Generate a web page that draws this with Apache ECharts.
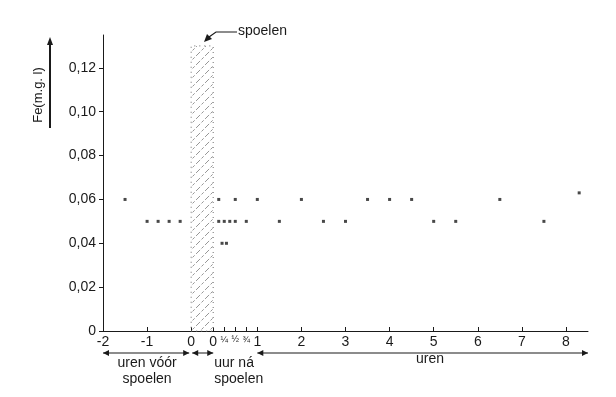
<!DOCTYPE html>
<html>
<head>
<meta charset="utf-8">
<script src="https://cdn.jsdelivr.net/npm/echarts@6/dist/echarts.min.js"></script>
<style>
  html, body { margin: 0; background: #fff; }
  #chart { width: 616px; height: 397px; }
</style>
</head>
<body>
<div id="chart"></div>
<script>
// Fe (mg/l) measured before flushing (hours before spoelen)
var beforeHours = [-1.5, -1, -0.75, -0.5, -0.25];
var beforeFe = [0.06, 0.05, 0.05, 0.05, 0.05];

// Fe (mg/l) measured after flushing (hours after spoelen)
var afterHours = [0.125, 0.5, 1, 2, 3.5, 4, 4.5, 6.5, 8.3,
  0.125, 0.25, 0.375, 0.5, 0.75, 1.5, 2.5, 3, 5, 5.5, 7.5,
  0.2, 0.3];
var afterFe = [0.06, 0.06, 0.06, 0.06, 0.06, 0.06, 0.06, 0.06, 0.063,
  0.05, 0.05, 0.05, 0.05, 0.05, 0.05, 0.05, 0.05, 0.05, 0.05, 0.05,
  0.04, 0.04];

// flushing period, peak Fe during spoelen
var flushFe = 0.13;
var flushGap = 0.5; // width of the flushing period on the time axis (hours scale)

var beforeTicks = [-2, -1, 0];
var afterTicks = [0, 0.25, 0.5, 0.75, 1, 2, 3, 4, 5, 6, 7, 8];
var afterTickLabels = ["0", "¼", "½", "¾", "1", "2", "3", "4", "5", "6", "7", "8"];

var ink = "#1a1a1a";
var font = "Liberation Sans";

// before-values are shifted left so the flushing period sits between the two zeros
function shiftBefore(h) { return h - flushGap; }

var labelMap = {};
var tickValues = [];
beforeTicks.forEach(function(t) {
  var v = shiftBefore(t);
  tickValues.push(v);
  labelMap[v.toFixed(3)] = String(t);
});
afterTicks.forEach(function(t, i) {
  tickValues.push(t);
  labelMap[t.toFixed(3)] = afterTickLabels[i];
});

var beforeData = beforeHours.map(function(h, i) { return [shiftBefore(h), beforeFe[i]]; });
var afterData = afterHours.map(function(h, i) { return [h, afterFe[i]]; });

// sparse hatch pattern for the flushing band
var hatch = document.createElement("canvas");
hatch.width = 9;
hatch.height = 9;
var hc = hatch.getContext("2d");
hc.strokeStyle = "#8a8a8a";
hc.lineWidth = 0.9;
hc.setLineDash([3, 2]);
hc.beginPath();
hc.moveTo(0, 9);
hc.lineTo(9, 0);
hc.stroke();

var chart = echarts.init(document.getElementById("chart"));

chart.setOption({
  animation: false,
  backgroundColor: "#fff",
  textStyle: { fontFamily: font },
  grid: { left: 103, right: 28, top: 35, bottom: 66, outerBoundsMode: "none" },
  xAxis: {
    type: "value",
    min: shiftBefore(-2),
    max: 8.5,
    splitLine: { show: false },
    axisLine: { onZero: false, lineStyle: { color: ink, width: 1 } },
    axisTick: { inside: true, length: 4, customValues: tickValues, lineStyle: { color: ink } },
    axisLabel: {
      customValues: tickValues,
      margin: 4,
      color: ink,
      fontSize: 14,
      formatter: function(v) {
        var s = labelMap[v.toFixed(3)];
        if (s === "¼" || s === "½" || s === "¾") return "{f|" + s + "}";
        return s;
      },
      rich: { f: { fontSize: 9, color: ink, padding: [0, 0, 2, 0] } }
    }
  },
  yAxis: {
    type: "value",
    min: 0,
    max: 0.135,
    interval: 0.02,
    splitLine: { show: false },
    axisLine: { show: true, onZero: false, lineStyle: { color: ink, width: 1 } },
    axisTick: { show: true, length: 4, lineStyle: { color: ink } },
    axisLabel: {
      margin: 7,
      color: ink,
      fontSize: 14,
      showMaxLabel: false,
      formatter: function(v) { return v === 0 ? "0" : v.toFixed(2).replace(".", ","); }
    }
  },
  series: [
    {
      name: "voor",
      type: "scatter",
      symbol: "rect",
      symbolSize: 3,
      itemStyle: { color: ink },
      data: beforeData,
      markArea: {
        silent: true,
        itemStyle: {
          color: { image: hatch, repeat: "repeat" },
          borderColor: "#888",
          borderWidth: 1.2,
          borderType: [1, 4]
        },
        data: [[{ coord: [-flushGap, 0] }, { coord: [0, flushFe] }]]
      }
    },
    {
      name: "na",
      type: "scatter",
      symbol: "rect",
      symbolSize: 3,
      itemStyle: { color: ink },
      data: afterData
    }
  ]
});

// annotations: axis captions and arrows
function px(x, y) { return chart.convertToPixel({ gridIndex: 0 }, [x, y]); }

function arrowHead(x, y, dir) {
  var pts;
  if (dir === "l") pts = [[x, y], [x + 6, y - 3], [x + 6, y + 3]];
  else if (dir === "r") pts = [[x, y], [x - 6, y - 3], [x - 6, y + 3]];
  else pts = [[x, y], [x - 3, y + 8], [x + 3, y + 8]];
  return { type: "polygon", shape: { points: pts }, style: { fill: ink } };
}

function hline(x1, x2, y) {
  return { type: "line", shape: { x1: x1, y1: y, x2: x2, y2: y }, style: { stroke: "#666", lineWidth: 1.5 } };
}

var yRow = 353;
var xa = px(shiftBefore(-2), 0)[0];
var xb = px(shiftBefore(0), 0)[0];
var xc = px(0, 0)[0];
var xd = px(1, 0)[0];
var xe = px(8.5, 0)[0];
var yTop = px(0, 0.135)[1];

chart.setOption({
  graphic: [
    hline(xa, xb - 2, yRow), arrowHead(xa, yRow, "l"), arrowHead(xb - 2, yRow, "r"),
    hline(xb + 1, xc, yRow), arrowHead(xb + 1, yRow, "l"), arrowHead(xc, yRow, "r"),
    hline(xd, xe, yRow), arrowHead(xd, yRow, "l"), arrowHead(xe, yRow, "r"),
    {
      type: "text", x: (xa + xb) / 2, y: yRow + 2,
      style: { text: "uren vóór\nspoelen", fill: ink, font: "14px " + font, align: "center", lineHeight: 16 }
    },
    {
      type: "text", x: xc + 1, y: yRow + 2,
      style: { text: "uur ná\nspoelen", fill: ink, font: "14px " + font, lineHeight: 16 }
    },
    {
      type: "text", x: px(4.6, 0)[0], y: yRow - 1,
      style: { text: "uren", fill: ink, font: "14px " + font }
    },
    // y axis caption with upward arrow
    { type: "line", shape: { x1: 50, y1: 128, x2: 50, y2: yTop + 8 }, style: { stroke: ink, lineWidth: 2 } },
    arrowHead(50, yTop + 2, "u"),
    {
      type: "text", x: 38, y: 95, rotation: Math.PI / 2,
      style: { text: "Fe(m.g. l)", fill: ink, font: "13px " + font, align: "center", verticalAlign: "middle" }
    },
    // spoelen callout
    {
      type: "polyline",
      shape: { points: [[237, 32], [216, 32], [209, 37]] },
      style: { stroke: ink, lineWidth: 1.2, fill: null }
    },
    { type: "polygon", shape: { points: [[204, 42], [207, 34], [212, 39]] }, style: { fill: ink } },
    {
      type: "text", x: 238, y: 24,
      style: { text: "spoelen", fill: ink, font: "14px " + font }
    }
  ]
});
</script>
</body>
</html>
